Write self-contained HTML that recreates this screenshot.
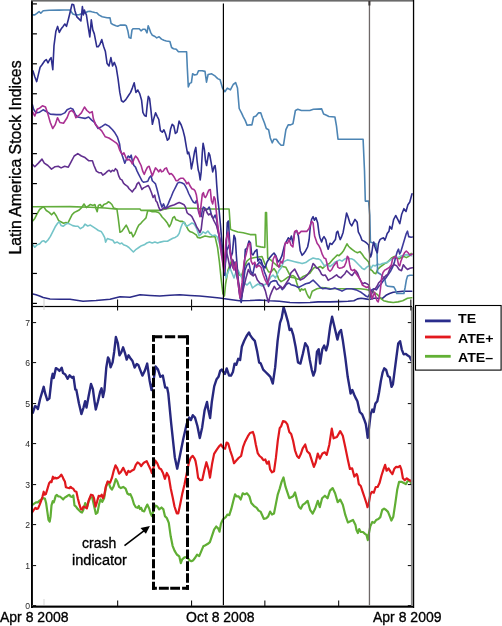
<!DOCTYPE html>
<html><head><meta charset="utf-8"><style>
html,body{margin:0;padding:0;background:#fff;}
body{width:502px;height:626px;position:relative;overflow:hidden;font-family:"Liberation Sans",sans-serif;}
.t{position:absolute;white-space:nowrap;color:#000;line-height:1;filter:grayscale(1);-webkit-text-stroke:0.35px #000;}
.tl{position:absolute;left:0;width:30px;text-align:right;font-size:9.6px;line-height:11px;color:#2a2a2a;transform-origin:30px 0;transform:scaleX(0.9);filter:grayscale(1);}
.lg{position:absolute;left:458.3px;font-weight:bold;font-size:13.5px;line-height:1;white-space:nowrap;transform-origin:0 0;transform:scaleX(1.05);filter:grayscale(1);}
</style></head><body>
<svg width="502" height="626" viewBox="0 0 502 626" style="position:absolute;left:0;top:0"><g><polyline points="32.9,294.0 36.0,294.7 39.6,295.9 43.2,297.5 50.0,299.0 60.0,299.2 70.0,299.3 83.0,301.3 96.0,300.5 110.0,299.2 120.0,296.8 130.0,297.2 140.0,294.8 150.0,295.5 159.8,296.0 170.0,295.2 179.7,294.8 190.0,295.5 199.6,296.0 210.0,297.0 219.5,298.0 230.0,299.5 239.4,300.8 250.0,300.5 259.4,300.0 270.0,300.8 279.3,301.2 290.0,302.5 299.2,302.7 310.0,302.5 318.0,301.9 330.0,301.9 338.4,301.6 348.0,301.3 353.9,300.7 357.5,298.9 361.1,298.3 365.6,298.9 369.2,299.5 374.0,298.3 382.4,298.3 386.0,295.3 389.6,293.5 393.2,292.3 398.0,291.7 402.7,291.3 411.7,291.3" fill="none" stroke="#2b2b88" stroke-width="1.6" stroke-linejoin="round" stroke-linecap="round"/><polyline points="32.5,206.7 70.0,206.6 90.0,207.2 105.0,208.0 115.0,209.0 140.0,209.0 141.0,210.4 160.0,210.4 165.0,209.0 170.0,208.3 195.0,208.3 205.0,209.0 229.1,209.0 230.5,229.3 232.6,230.2 237.9,232.0 243.2,232.8 250.2,234.6 255.6,234.6 256.4,246.0 260.8,246.9 264.8,247.5 265.5,212.6 266.5,212.6 267.7,258.3 271.0,260.1 274.0,263.0 277.5,266.1 281.1,266.1 283.5,266.7 285.9,267.3 287.7,270.9 289.5,274.4 291.3,276.2 293.1,275.6 294.9,276.8 296.7,282.8 297.9,286.4 299.1,288.8 300.2,291.2 301.4,288.8 303.2,290.0 305.0,288.8 306.8,293.6 308.6,297.1 309.8,298.3 311.0,294.8 312.2,291.2 314.6,290.0 317.0,288.8 319.4,288.2 322.0,287.6 330.0,288.5 340.0,288.7 350.0,288.7 360.0,288.7 366.0,289.5 370.0,290.5 374.0,292.3 377.6,294.7 380.6,298.3 383.6,300.7 388.4,301.9 393.2,302.5 398.0,301.9 402.7,300.7 407.5,298.3 411.7,297.7" fill="none" stroke="#62ad3c" stroke-width="1.6" stroke-linejoin="round" stroke-linecap="round"/><polyline points="32.9,220.8 34.8,218.4 37.2,213.6 39.6,209.5 42.0,207.6 43.9,207.1 46.3,210.5 49.2,212.4 51.6,214.8 54.0,212.4 56.4,216.0 58.8,220.8 61.2,222.0 63.6,223.2 66.0,222.5 67.9,223.2 69.6,219.6 72.0,214.8 74.4,212.4 76.8,211.2 79.2,210.0 81.6,207.6 84.0,204.0 86.4,207.6 87.7,206.3 90.4,204.5 93.1,205.4 94.9,204.5 96.1,209.0 97.2,211.7 98.4,205.4 100.2,204.5 102.0,207.2 103.8,204.5 106.5,203.6 108.3,201.8 110.1,202.7 111.9,204.5 113.7,208.1 116.9,209.0 118.2,217.9 120.0,232.3 121.8,231.4 124.4,227.8 126.2,225.1 128.0,228.7 129.8,233.2 131.3,232.3 133.0,236.8 134.8,234.1 137.0,228.7 138.8,225.1 140.9,223.3 142.4,221.5 144.2,219.7 146.0,217.9 147.7,210.8 149.5,210.8 152.2,211.7 155.8,211.7 158.5,212.5 160.3,214.3 162.1,217.0 164.8,219.7 167.5,223.3 169.3,226.9 171.1,223.3 172.8,217.9 174.4,216.6 176.0,219.8 178.4,220.6 180.0,221.4 182.4,221.4 184.8,223.0 186.3,226.2 188.4,230.2 190.3,231.8 192.7,232.6 195.1,234.2 196.4,235.0 197.5,237.4 200.0,238.0 205.0,236.0 210.0,237.0 215.0,236.4 217.6,247.8 219.4,261.9 221.2,279.5 222.9,293.5 224.4,296.0 225.6,284.0 228.0,270.0 232.0,259.5 235.0,266.0 239.5,275.0 241.5,276.0 244.0,268.0 247.0,261.0 250.0,258.5 255.0,257.5 262.0,256.5 264.4,262.5 266.8,268.5 268.6,272.0 271.0,272.0 274.0,268.5 276.3,272.0 278.7,279.2 281.1,281.6 283.5,280.4 285.9,278.6 288.3,276.8 292.0,277.5 295.5,278.0 297.9,279.2 300.2,278.6 302.6,276.8 305.0,275.6 307.4,274.4 309.8,273.2 312.2,269.7 314.6,267.3 317.0,268.0 320.4,266.5 322.8,268.3 325.2,265.9 327.0,264.7 329.4,263.5 332.4,259.9 334.8,257.5 337.2,255.1 339.0,255.7 341.4,253.4 343.7,250.4 345.5,246.8 347.0,243.8 348.5,246.2 350.3,248.0 352.7,249.8 355.1,251.6 357.5,252.8 359.9,251.6 362.0,254.0 364.4,257.6 366.8,260.0 368.6,262.0 370.4,269.5 372.2,270.7 374.0,273.1 375.8,273.7 377.6,269.5 380.0,267.1 382.4,265.3 384.8,263.5 387.2,262.4 389.6,260.0 392.0,257.6 394.4,256.4 396.7,257.6 399.1,258.8 401.5,257.0 403.9,256.4 406.3,257.6 408.7,256.4 411.1,253.4" fill="none" stroke="#60ab3a" stroke-width="1.6" stroke-linejoin="round" stroke-linecap="round"/><polyline points="32.9,244.8 34.8,247.2 37.2,244.8 39.6,244.1 42.0,241.2 43.9,240.7 45.6,242.4 48.0,240.0 50.4,236.4 52.8,231.6 55.2,226.8 57.6,223.2 59.3,222.0 61.2,225.6 63.1,226.3 65.5,224.4 67.9,223.2 70.3,224.4 72.7,225.6 75.6,226.3 78.0,226.3 80.4,228.7 83.3,226.8 85.0,224.2 87.7,226.0 90.4,225.1 93.1,226.9 95.8,228.7 98.4,230.5 101.1,231.4 102.9,234.1 104.7,237.6 105.6,242.1 107.4,238.5 110.1,239.4 112.8,240.3 114.6,243.0 117.3,242.1 120.0,243.9 121.8,243.0 123.5,244.8 126.2,245.7 128.9,247.5 131.6,250.2 133.4,252.0 136.1,249.3 138.8,247.5 141.5,245.7 144.2,244.8 146.8,243.0 149.5,242.1 152.2,243.0 154.9,242.1 157.6,243.0 160.3,242.1 163.9,241.2 167.5,241.2 169.6,240.0 172.8,238.2 175.2,237.4 177.6,235.8 179.2,233.4 180.8,227.8 182.4,223.8 184.0,222.2 185.5,225.4 187.1,226.2 189.5,224.6 191.9,223.0 193.9,223.8 195.4,226.2 197.0,229.4 199.1,235.8 201.2,234.2 203.1,231.8 205.5,233.4 207.9,231.0 210.3,234.2 212.7,235.8 215.1,235.0 217.5,237.4 220.0,245.0 222.0,258.0 224.4,268.0 226.0,278.0 228.0,272.0 230.0,268.0 232.4,274.0 234.0,278.0 236.0,272.0 238.0,270.0 241.0,276.0 244.0,283.0 247.0,285.0 250.0,282.0 252.5,288.0 255.0,286.0 258.0,284.0 262.0,286.0 266.0,284.0 268.0,282.0 270.7,277.0 273.0,275.0 275.5,278.0 278.7,271.0 281.0,268.0 283.7,261.7 287.4,259.9 291.0,260.8 294.7,261.7 298.4,262.6 302.1,263.6 305.7,262.6 309.4,259.9 313.1,258.0 316.8,259.0 318.0,258.7 320.4,259.9 322.8,263.5 324.6,265.9 327.0,264.7 330.0,266.5 332.4,264.7 334.8,262.3 337.2,261.1 339.6,259.9 342.0,261.1 344.3,259.3 346.7,258.1 349.1,258.7 351.5,258.7 353.9,259.9 356.3,262.3 358.7,264.7 361.1,267.1 362.0,268.3 364.4,269.5 366.8,267.1 368.6,265.9 371.0,268.3 372.8,265.3 375.2,265.9 377.6,264.1 380.0,264.7 382.4,263.5 384.8,263.0 387.2,262.4 389.6,260.6 392.0,258.8 394.4,258.2 396.7,257.6 399.1,257.0 401.5,255.8 403.9,255.2 406.3,254.6 408.7,255.2 411.7,255.8" fill="none" stroke="#74c4c8" stroke-width="1.6" stroke-linejoin="round" stroke-linecap="round"/><polyline points="32.9,14.9 34.8,14.9 37.2,13.2 39.1,11.5 40.8,13.2 43.2,10.8 49.2,10.3 58.8,10.1 64.0,10.0 70.0,10.0 72.9,13.9 75.9,14.9 78.9,14.7 80.9,13.9 85.9,12.5 87.8,11.5 89.8,11.2 91.8,11.8 94.8,12.5 96.8,12.7 98.8,14.9 102.2,16.7 107.0,17.7 110.0,17.9 111.1,23.3 112.9,24.5 115.9,25.7 117.7,26.3 120.1,25.1 124.9,25.1 126.3,25.7 127.9,31.1 129.1,37.6 130.9,38.2 132.0,29.9 133.0,28.7 139.2,28.7 141.0,30.8 142.8,29.3 145.2,29.3 147.0,32.9 148.2,25.7 149.4,28.7 150.6,32.3 152.4,35.3 155.0,36.5 156.7,37.9 159.1,36.7 161.5,39.1 163.9,40.3 166.3,41.0 169.9,41.5 171.6,47.5 173.5,48.7 176.3,49.2 178.2,51.6 181.8,51.8 186.6,51.8 187.3,67.8 188.3,86.9 189.7,83.4 191.4,82.6 192.6,73.8 194.5,75.0 196.9,74.5 198.6,70.7 202.2,70.7 205.0,71.4 206.5,82.2 208.1,74.5 211.7,73.8 215.3,76.2 217.7,78.6 220.1,79.8 222.5,88.1 224.9,91.7 227.3,88.1 230.4,89.8 233.2,84.5 235.6,82.6 237.5,88.1 239.2,108.5 241.6,113.2 243.3,116.8 245.2,120.4 247.1,125.2 250.0,124.9 251.9,124.9 253.6,117.0 256.0,116.0 258.4,112.9 260.8,112.9 262.4,117.7 264.3,122.5 266.3,128.5 268.6,129.7 270.3,138.0 272.2,142.8 273.9,139.2 276.3,139.2 278.7,142.8 281.1,145.2 283.5,145.2 285.9,129.7 288.2,124.9 290.6,124.9 293.0,123.7 295.4,110.5 297.8,109.3 301.4,110.5 309.8,110.5 313.4,109.3 321.7,108.9 323.6,114.1 326.5,115.3 328.9,116.5 334.9,117.0 336.5,126.1 338.0,139.2 340.4,139.2 345.6,139.2 363.1,139.2 364.5,170.7 365.3,201.1 368.6,201.1 369.8,215.0 370.4,242.0 374.0,243.2 375.8,243.8 377.0,251.6 377.6,272.5 380.6,274.3 383.0,276.7 384.8,279.1 386.0,285.1 387.8,286.3 393.8,286.9 395.5,289.9 396.7,293.5 403.9,293.5 405.1,287.5 406.3,280.3 407.5,276.1 409.9,275.3 412.3,275.3" fill="none" stroke="#4d85b4" stroke-width="1.6" stroke-linejoin="round" stroke-linecap="round"/><polyline points="32.9,70.8 34.8,76.8 36.7,81.6 38.4,74.4 40.1,67.2 42.0,64.8 44.4,61.2 46.3,59.5 48.0,62.9 49.7,59.5 51.1,57.6 52.8,69.6 54.0,45.6 55.9,31.2 57.6,26.4 59.3,32.4 61.2,28.8 63.1,26.4 64.8,24.0 66.5,26.4 68.4,19.2 70.3,11.5 72.0,4.3 73.7,4.8 75.0,11.0 76.9,16.9 79.9,19.9 80.9,20.9 82.4,6.5 83.4,14.9 84.4,10.0 85.4,12.9 86.4,14.9 87.9,24.9 89.8,36.9 91.3,19.9 92.8,29.9 94.3,33.9 96.8,46.8 98.2,46.8 99.9,44.4 101.8,39.6 103.7,46.8 105.4,51.6 107.1,63.6 109.0,66.0 110.9,57.6 112.6,66.0 114.3,62.4 116.2,67.2 118.1,79.2 119.8,92.4 121.5,100.8 123.4,102.0 125.8,99.6 128.2,96.0 130.6,92.4 132.5,87.6 134.2,82.8 135.9,92.4 137.8,90.0 139.7,93.6 141.6,100.3 142.9,112.3 144.5,115.5 146.1,116.3 147.2,105.1 148.3,96.3 149.6,98.7 150.9,109.9 152.4,124.3 154.0,117.9 155.6,112.8 157.2,116.3 158.8,119.5 160.4,130.6 162.3,132.2 163.9,129.8 165.5,133.8 167.4,140.2 169.0,138.6 170.6,129.0 172.2,124.3 173.8,125.8 175.4,133.5 177.0,132.2 179.1,121.1 181.2,125.0 183.1,130.6 184.7,137.0 186.3,146.6 187.6,153.8 188.7,152.2 190.3,159.4 191.4,168.9 193.0,161.0 194.6,151.4 195.8,147.4 197.1,161.0 198.3,170.3 199.1,172.7 200.2,179.9 201.2,171.9 202.3,152.8 203.1,143.2 204.4,149.6 205.5,160.8 206.6,165.5 207.9,157.6 208.7,152.8 209.8,155.2 211.1,162.4 212.7,171.9 214.3,166.3 215.1,165.5 215.9,171.9 216.7,184.7 217.8,199.1 219.1,210.3 220.4,224.2 222.0,243.4 223.6,265.7 224.7,275.3 226.0,253.0 227.3,222.6 228.4,221.0 229.5,238.6 230.8,257.7 232.4,253.0 234.0,235.4 235.3,238.6 236.4,256.1 238.0,276.9 239.6,294.5 241.2,302.5 242.8,289.7 244.4,265.0 245.3,249.5 246.9,248.4 249.0,241.0 250.5,243.0 251.6,253.7 253.0,255.0 254.8,251.6 256.9,249.5 257.9,261.1 259.5,259.0 261.0,260.0 262.7,265.3 265.0,268.0 267.0,262.0 269.5,258.0 272.0,255.0 274.0,253.0 276.0,256.0 278.0,262.0 280.0,259.9 281.8,256.2 284.6,245.2 286.4,241.5 288.3,237.8 290.1,239.7 291.4,236.0 292.9,243.3 294.7,232.3 296.6,230.5 298.4,236.0 300.2,250.7 302.1,255.3 303.9,253.4 305.7,250.7 307.6,247.0 309.1,239.7 310.3,226.8 311.6,219.4 313.1,216.7 314.4,220.3 315.9,217.6 317.7,223.1 319.0,233.2 319.8,237.2 321.6,242.0 322.8,238.4 324.0,236.6 325.8,239.6 327.0,245.6 328.2,249.2 330.0,243.2 331.8,244.4 333.6,242.0 335.4,239.6 336.6,232.4 337.8,231.2 339.0,236.0 340.2,239.6 341.4,237.2 343.1,232.4 345.3,220.3 346.6,213.0 348.0,216.7 349.9,223.1 351.7,225.9 353.6,222.2 355.0,219.4 357.2,222.3 358.3,231.8 360.4,236.0 362.0,240.2 364.4,241.4 366.8,243.2 368.6,245.0 369.8,254.0 370.6,257.0 371.6,254.0 372.8,245.6 373.7,242.0 374.9,246.8 376.1,250.4 377.3,252.8 378.5,243.2 380.0,239.6 381.8,238.4 383.6,237.8 384.8,240.2 386.0,237.2 387.2,233.6 389.0,231.2 389.8,226.4 391.7,229.1 393.6,219.6 395.7,215.5 397.9,219.6 399.8,223.7 401.7,214.2 403.9,208.7 406.0,211.5 407.9,204.7 409.8,202.0 412.0,193.8" fill="none" stroke="#2e2e8e" stroke-width="1.6" stroke-linejoin="round" stroke-linecap="round"/><polyline points="32.4,104.6 33.6,109.3 36.0,112.9 39.6,112.2 43.1,109.8 46.7,111.7 50.3,114.1 56.3,114.6 61.1,114.6 64.7,112.9 67.1,109.8 70.6,108.1 73.0,109.3 75.4,114.6 77.8,117.0 81.4,117.7 85.0,118.4 88.6,117.0 91.7,120.1 94.5,122.5 98.1,128.5 101.7,126.6 105.3,124.2 108.9,126.1 112.5,129.7 114.9,132.8 117.3,136.8 119.6,144.0 120.3,149.6 121.9,154.4 123.5,159.2 124.8,163.2 126.4,159.2 128.3,156.0 129.9,157.6 131.2,155.2 132.3,160.8 133.9,165.5 135.5,167.1 137.1,171.1 138.7,174.3 140.3,177.5 141.9,180.7 143.5,182.3 145.9,181.8 147.8,181.2 149.4,177.5 151.0,175.9 152.3,180.7 153.9,182.3 155.5,183.9 157.1,189.5 158.7,195.9 160.3,202.3 161.9,207.1 163.5,203.9 165.0,207.9 166.6,207.1 168.2,203.9 169.8,199.9 171.2,196.7 172.8,192.7 174.4,189.5 176.0,186.3 177.6,183.1 179.2,182.3 181.6,182.8 184.0,183.9 185.5,186.3 187.1,189.5 188.7,193.5 190.3,196.7 191.9,199.9 193.5,202.3 195.1,203.1 196.4,200.7 197.5,203.9 198.6,211.9 199.9,215.0 201.2,216.6 202.3,210.3 203.4,207.1 204.7,207.9 206.3,210.3 207.9,208.7 209.2,207.1 210.3,210.3 211.9,216.6 213.5,218.2 215.1,215.0 216.7,219.8 217.8,229.4 219.1,235.8 221.0,245.0 223.0,255.0 225.0,265.0 227.0,250.0 229.0,245.0 231.0,258.0 233.0,268.0 235.0,262.0 237.0,275.0 239.0,290.0 241.0,300.0 243.0,285.0 245.0,270.0 247.0,265.0 249.0,263.2 250.5,270.6 252.7,274.8 254.8,264.3 256.5,266.0 259.5,262.0 262.7,266.0 264.5,272.0 266.4,276.9 268.5,286.4 270.6,282.2 272.7,281.1 274.8,280.6 276.5,281.0 278.0,284.3 280.1,286.4 282.2,289.6 284.0,288.0 286.4,284.3 289.0,283.0 291.0,284.7 294.7,285.6 298.4,287.5 302.1,285.6 305.7,283.8 309.4,282.9 313.1,280.1 316.8,283.8 320.4,287.5 322.8,288.7 325.2,288.1 327.6,288.7 330.0,289.3 332.4,288.7 334.8,288.1 339.6,289.9 342.0,291.1 344.3,289.9 346.7,288.7 351.5,288.7 356.3,289.9 358.7,291.1 361.1,292.3 363.5,294.1 365.9,296.0 368.0,297.0 371.6,289.9 374.0,288.7 376.4,289.9 378.8,286.3 381.2,283.9 383.6,280.3 386.0,277.9 388.4,274.3 390.8,270.7 392.6,267.1 394.4,262.4 395.5,257.6 397.3,251.6 398.5,249.2 399.7,254.0 400.9,251.6 402.7,245.6 404.5,239.6 406.3,233.6 407.5,231.2 408.7,236.6 411.1,237.2 412.3,237.0" fill="none" stroke="#3d3a9c" stroke-width="1.6" stroke-linejoin="round" stroke-linecap="round"/><polyline points="32.4,164.3 34.8,166.7 38.4,163.1 42.0,159.1 44.3,163.1 47.9,165.5 51.5,169.1 55.1,166.7 58.2,166.2 61.1,167.9 64.7,166.2 68.3,167.2 71.1,161.9 74.2,156.0 77.8,153.6 81.4,156.0 85.0,157.6 88.6,160.7 92.4,160.8 94.0,165.5 96.4,171.1 98.8,172.7 101.2,172.7 102.8,175.1 105.2,173.5 107.6,171.1 109.2,170.3 110.8,171.9 112.4,170.3 114.0,171.1 115.5,168.7 117.1,170.3 118.7,175.9 120.3,179.1 121.9,179.9 123.5,183.1 125.1,184.7 127.5,186.3 129.1,188.7 130.7,190.3 132.3,191.9 133.9,189.5 135.5,187.9 137.1,183.9 138.7,182.3 140.3,185.5 141.9,189.5 143.5,187.9 145.1,187.1 146.7,186.3 148.3,185.5 149.9,188.7 151.5,192.7 153.1,197.5 154.7,195.1 155.8,200.7 157.1,202.3 158.7,207.1 160.3,210.3 161.9,209.5 163.5,207.9 165.8,208.7 167.2,207.9 169.6,206.3 172.0,205.5 174.4,204.7 176.8,203.6 179.2,202.6 181.6,203.6 184.0,204.7 185.5,207.1 187.1,212.7 188.7,214.3 190.3,215.0 191.9,216.6 193.5,219.8 195.1,223.0 196.7,227.0 198.3,229.4 199.9,232.6 201.2,229.4 202.3,219.8 203.9,211.1 205.5,208.7 207.1,212.7 208.7,215.0 210.3,213.5 211.9,215.8 213.5,219.8 215.1,223.0 216.7,226.2 218.3,232.6 219.9,239.0 222.0,250.0 224.0,262.0 226.0,250.0 228.0,258.0 230.0,268.0 233.0,260.0 236.0,272.0 239.0,285.0 241.0,298.0 243.0,290.0 246.0,278.0 248.4,269.5 250.5,273.8 253.2,275.9 255.0,274.0 257.4,280.1 260.0,283.2 262.7,284.3 265.3,290.6 266.9,297.0 268.5,302.2 270.1,295.9 272.2,290.6 274.3,286.4 276.4,289.6 278.5,288.5 280.6,286.4 282.7,288.5 284.8,285.4 286.9,282.2 289.0,279.0 291.0,272.8 294.7,269.1 297.5,274.6 300.2,280.1 303.9,278.3 307.6,274.6 311.3,269.1 313.1,263.6 314.9,265.4 316.8,268.0 318.0,268.3 319.8,270.7 321.6,274.3 323.4,275.5 325.2,275.0 327.0,277.9 328.2,280.3 330.0,279.1 332.4,277.9 334.8,276.1 336.6,274.9 338.4,276.7 340.8,277.9 343.1,275.5 344.9,273.7 346.7,270.7 348.5,272.5 350.3,274.3 352.1,275.5 353.9,273.1 355.7,270.7 357.5,273.1 359.3,277.9 361.1,281.5 362.9,283.9 364.7,282.7 367.1,283.9 368.9,285.1 369.2,289.9 370.4,297.1 371.6,294.0 373.4,289.9 375.2,288.7 377.0,286.3 378.8,282.7 381.2,280.3 383.6,277.9 386.0,275.5 387.8,274.3 389.6,269.5 392.0,265.9 394.4,264.7 396.7,265.9 399.1,269.5 401.5,270.7 403.3,264.7 405.1,267.1 407.5,269.5 409.9,268.3 412.3,267.7" fill="none" stroke="#62308f" stroke-width="1.6" stroke-linejoin="round" stroke-linecap="round"/><polyline points="32.4,111.7 34.8,116.0 37.2,109.3 39.6,108.1 42.4,105.8 45.5,107.0 47.9,114.1 50.3,122.5 52.7,128.5 55.1,124.9 57.5,117.7 59.9,122.5 63.5,123.2 67.1,117.7 69.4,111.7 71.8,110.5 74.2,112.9 75.9,117.7 79.0,115.3 81.4,112.9 84.5,107.0 86.9,110.5 89.8,112.9 92.2,111.7 93.4,118.9 95.7,124.9 98.1,127.3 101.7,130.9 105.3,136.8 108.9,138.0 112.5,140.4 116.1,142.8 117.9,144.8 119.5,149.6 121.1,152.8 122.7,154.4 123.9,152.8 125.9,157.6 127.5,160.0 129.1,159.2 131.2,161.6 132.3,164.0 133.9,159.2 135.5,156.0 137.6,158.4 139.5,162.4 141.1,165.5 142.7,171.1 144.3,174.3 145.9,170.3 147.5,167.1 149.1,166.3 150.7,171.1 152.3,175.9 153.9,171.9 155.5,167.9 157.1,169.5 158.7,171.9 160.3,169.5 161.6,171.9 163.2,171.1 164.8,168.7 166.4,167.9 168.0,171.9 169.6,174.3 171.2,173.5 172.8,175.1 174.4,177.5 176.0,180.7 177.6,180.7 179.2,179.1 180.8,178.3 183.2,178.3 185.2,180.7 186.8,183.9 188.4,182.3 190.3,186.3 191.9,188.7 193.9,189.5 195.1,191.1 196.4,195.1 197.5,202.3 198.6,210.3 199.9,216.6 201.2,203.9 202.3,194.3 203.4,192.7 204.4,196.7 205.5,197.5 207.1,194.3 208.7,190.3 210.3,189.5 211.4,200.7 212.7,203.9 214.0,196.7 215.1,199.1 216.2,210.3 217.5,223.0 218.8,232.6 220.0,245.0 222.0,258.0 224.0,272.0 226.0,240.0 228.0,232.0 230.0,250.0 232.0,262.0 234.0,270.0 236.0,262.0 238.0,282.0 240.0,298.0 242.1,282.2 244.2,261.1 246.3,253.7 248.4,244.2 250.0,243.2 251.1,261.1 252.7,264.3 254.8,262.2 256.4,267.4 259.0,265.3 261.1,267.4 263.2,274.8 265.3,280.1 267.4,284.3 269.5,275.9 271.6,269.5 273.2,259.0 274.8,255.8 276.0,257.0 277.4,264.3 279.0,267.4 280.6,261.1 282.2,263.2 283.8,257.9 284.8,245.3 285.5,242.4 287.4,243.3 289.2,239.7 291.0,245.2 292.9,247.0 294.7,231.4 296.6,230.5 298.4,234.1 301.1,231.4 303.9,231.4 306.7,231.4 309.1,228.6 310.3,224.9 311.6,221.3 313.1,223.1 314.6,236.0 315.9,239.7 317.1,243.3 318.6,245.2 320.5,248.9 322.3,254.4 324.1,258.0 325.8,258.7 327.0,263.5 328.2,269.5 330.0,271.3 331.8,269.5 333.6,265.9 335.4,263.5 336.9,261.7 337.8,267.1 339.6,268.3 342.0,267.7 344.3,266.5 346.1,262.3 347.3,256.3 348.5,257.5 349.7,264.7 350.9,269.5 352.7,270.7 354.5,269.5 355.7,273.1 357.5,275.5 359.3,277.9 361.1,281.5 362.3,285.1 364.4,286.3 366.8,287.5 369.2,286.3 371.0,293.5 372.2,298.9 373.4,295.3 374.6,292.3 375.8,297.1 377.0,300.7 378.2,301.9 379.4,297.1 380.6,287.5 381.8,276.7 383.0,272.5 384.8,270.1 386.0,269.5 387.8,268.3 389.6,267.1 391.4,264.7 392.6,258.8 393.8,257.6 395.5,256.4 397.3,258.8 398.5,264.7 399.7,265.9 400.9,261.2 402.7,256.4 404.5,252.8 406.3,251.0 408.1,252.8 409.9,255.2 412.3,254.0" fill="none" stroke="#aa3092" stroke-width="1.6" stroke-linejoin="round" stroke-linecap="round"/></g><polyline points="32.4,504.8 34.2,503.6 36.0,502.4 37.8,502.4 39.6,500.6 41.4,499.4 43.1,498.2 44.9,498.5 46.1,503.0 47.3,511.4 48.5,519.8 49.7,521.6 50.6,516.2 51.5,505.4 52.7,501.2 53.7,502.4 54.7,499.4 55.7,495.9 56.9,494.9 58.4,496.5 59.9,496.5 61.7,498.0 63.2,499.4 64.7,497.6 66.5,496.5 68.2,495.3 69.4,494.9 70.6,496.5 72.1,497.0 73.3,495.3 74.5,505.4 76.0,506.6 77.2,508.4 79.0,510.2 80.8,512.0 82.0,512.6 83.2,510.2 84.4,506.0 85.2,503.0 86.2,505.4 87.0,507.2 88.6,501.8 90.4,497.0 92.2,497.6 94.0,505.4 95.8,513.8 97.5,512.6 99.1,504.2 100.5,499.4 102.3,501.8 104.1,498.2 105.9,487.5 107.7,482.1 108.9,483.3 110.3,487.5 111.9,489.6 113.7,486.3 115.8,479.1 117.3,481.5 119.1,486.9 120.9,488.1 123.2,486.9 125.6,488.7 127.4,493.5 129.0,494.7 130.4,494.1 132.2,498.2 134.0,504.2 135.8,507.2 137.6,507.8 138.8,506.0 140.0,509.0 141.2,507.8 142.4,510.8 144.2,511.4 145.8,507.5 147.3,504.6 149.2,508.5 150.5,513.3 151.9,516.1 153.8,509.4 155.3,505.6 157.3,506.5 159.2,509.4 161.5,507.5 163.4,509.4 164.9,516.1 166.8,518.0 168.8,522.8 170.7,536.3 172.6,545.8 174.5,550.6 176.8,554.5 179.3,556.4 180.8,563.1 182.2,559.3 184.5,557.3 187.0,557.0 189.5,560.2 191.4,561.2 193.3,560.2 195.3,557.5 197.1,554.6 199.2,556.2 201.2,551.4 203.3,546.3 205.4,545.2 207.9,543.8 209.9,542.1 212.0,535.9 214.1,529.6 216.2,526.5 218.3,528.6 219.5,531.7 221.0,523.4 223.0,519.3 225.7,517.2 227.2,514.7 229.3,515.1 231.3,508.9 233.4,500.6 235.1,494.4 236.5,496.4 238.6,496.4 240.7,499.5 242.7,493.3 244.8,494.4 246.9,493.3 249.4,496.4 251.3,503.0 253.8,505.8 256.7,507.8 258.6,510.6 260.5,511.6 261.9,514.5 263.8,518.9 266.3,518.3 268.2,516.4 270.1,511.6 272.0,514.5 274.0,513.5 275.9,503.9 277.8,494.3 279.7,488.6 281.6,481.9 283.5,477.5 285.5,486.7 287.4,492.4 289.3,498.2 291.2,497.2 293.1,496.3 295.0,492.4 297.0,500.1 298.9,506.8 300.8,508.7 302.7,504.9 305.0,503.4 307.6,500.8 310.1,509.8 312.7,513.6 315.2,508.5 317.8,500.8 319.8,507.2 322.1,498.3 324.9,495.7 327.5,498.3 330.0,490.6 332.6,488.1 335.1,493.2 337.7,502.1 340.2,499.6 342.8,504.7 345.3,514.9 347.9,522.5 350.4,521.3 353.0,520.0 355.5,525.1 356.5,530.1 357.9,533.0 359.2,529.1 360.8,532.0 363.0,532.0 365.0,533.9 366.5,534.9 367.8,540.1 368.8,533.9 370.3,526.3 372.3,522.0 374.2,522.8 376.1,520.1 378.4,519.0 380.3,517.1 382.2,510.0 384.1,508.6 386.1,510.0 388.0,511.9 389.9,516.7 391.4,520.5 393.3,516.7 395.3,503.3 397.2,489.8 399.1,481.8 401.4,481.8 403.9,483.1 405.8,484.1 407.7,481.2 409.6,480.6 411.5,484.1" fill="none" stroke="#60ae34" stroke-width="2.2" stroke-linejoin="round" stroke-linecap="round"/><polyline points="32.4,512.0 33.6,510.2 35.4,507.8 36.6,509.0 38.1,508.4 39.6,504.8 41.4,500.0 42.5,496.5 43.7,491.7 44.6,494.7 45.8,494.1 47.3,489.3 49.1,483.3 50.6,481.5 51.5,482.1 52.9,476.7 53.9,478.5 55.1,477.7 56.3,478.5 58.1,477.9 59.9,476.5 61.3,474.6 62.5,476.7 63.5,479.1 64.9,481.5 65.9,487.2 67.6,487.7 69.4,488.1 70.6,486.9 71.8,488.1 73.3,488.7 74.8,491.3 76.4,491.7 77.8,498.2 79.2,503.6 80.8,509.0 82.0,509.6 83.5,506.6 85.0,507.2 86.8,508.4 88.6,500.6 91.0,494.7 92.8,495.3 94.0,498.2 95.5,506.6 97.0,501.8 98.7,495.9 100.5,496.5 101.7,494.7 102.9,498.2 104.1,495.9 105.9,486.3 107.7,481.5 110.1,482.7 111.9,477.9 113.7,470.8 115.5,465.4 117.3,468.4 119.1,473.7 120.9,472.0 123.2,467.8 125.0,471.4 126.6,474.9 128.3,470.8 129.8,472.0 131.6,470.8 134.0,469.6 135.8,464.8 137.6,462.4 139.4,463.6 141.2,466.0 143.0,463.6 144.2,462.5 146.7,461.1 148.6,465.3 150.5,469.2 151.9,473.0 153.4,468.2 155.3,460.5 157.3,463.4 159.2,468.2 161.1,469.2 163.0,473.0 164.9,478.8 166.8,473.0 168.8,476.8 170.7,488.3 172.6,497.0 174.5,506.5 176.8,513.3 178.3,513.3 180.3,503.7 182.2,494.1 184.5,484.5 186.4,474.9 188.9,462.5 190.8,457.7 192.7,455.8 194.6,458.6 195.5,461.0 196.7,467.4 198.1,477.7 200.2,480.2 202.3,479.8 204.3,470.5 206.4,462.2 208.5,469.4 210.0,477.7 212.0,464.3 214.1,453.9 216.8,449.7 218.9,446.6 221.0,444.5 223.0,447.6 225.1,448.7 226.6,442.5 228.2,443.5 230.3,450.8 232.4,457.0 234.0,463.2 236.1,460.7 238.6,458.0 241.1,456.0 243.2,446.6 245.2,441.4 247.9,436.2 250.0,433.0 252.9,432.0 254.2,435.9 255.8,444.5 257.7,453.1 259.6,456.0 261.5,457.5 263.4,460.2 265.3,459.5 266.9,463.7 268.8,461.4 270.1,469.4 272.0,472.3 274.0,471.3 275.9,457.9 277.8,440.7 279.7,428.2 281.1,426.3 283.0,421.1 285.5,421.9 287.4,424.4 289.3,432.0 291.2,434.0 293.1,440.7 295.0,450.3 297.0,456.0 298.9,457.9 300.8,454.1 302.7,448.3 305.2,444.5 307.1,451.2 309.6,453.6 312.1,461.3 313.9,466.9 315.7,462.5 317.8,453.6 319.8,458.7 322.4,453.6 324.9,452.3 326.7,454.9 329.3,444.7 331.8,428.6 333.6,438.3 336.9,437.0 340.2,431.1 342.8,435.7 345.3,447.2 347.9,460.0 349.9,468.9 352.2,468.4 354.3,476.6 356.6,474.0 357.5,476.0 358.8,484.1 360.8,486.0 362.7,491.8 364.6,497.5 366.5,503.3 367.5,507.1 368.8,503.3 370.3,494.6 371.9,491.8 373.8,492.7 375.7,487.0 377.6,487.0 379.5,483.1 381.5,475.5 383.4,469.7 385.1,464.9 386.6,470.7 388.5,468.4 390.5,471.6 392.4,474.1 394.3,468.8 396.2,466.8 398.1,467.2 400.0,465.9 401.4,469.7 402.9,478.3 404.8,480.3 406.8,478.3 409.6,480.3 411.5,481.2" fill="none" stroke="#e0181d" stroke-width="2.2" stroke-linejoin="round" stroke-linecap="round"/><polyline points="32.9,412.7 35.0,406.2 36.5,406.9 37.9,409.0 40.1,399.0 43.7,386.8 45.1,393.2 47.3,400.1 49.4,398.3 51.6,378.8 52.7,373.8 53.7,378.1 55.9,368.1 58.1,369.5 59.5,370.9 61.7,367.8 63.1,373.1 65.3,374.5 67.7,378.8 69.6,375.3 72.0,377.7 73.5,376.7 75.3,389.6 76.3,389.6 78.9,403.3 81.4,414.1 83.5,407.6 85.1,401.2 86.5,407.6 88.6,396.3 91.0,384.0 92.9,389.1 94.4,400.6 95.8,409.5 98.0,401.3 100.1,392.0 101.5,388.3 103.0,397.0 104.4,390.5 106.3,367.5 108.0,357.4 109.2,359.6 110.6,367.2 112.6,362.4 114.2,351.7 115.9,337.0 117.8,343.0 119.5,355.3 121.3,352.4 123.1,347.3 125.0,353.1 126.7,359.6 128.6,355.3 130.8,358.8 132.5,361.0 134.6,367.5 136.8,363.9 138.5,365.3 140.4,370.4 142.4,375.6 144.8,370.8 147.2,363.6 149.6,380.4 151.5,390.0 153.2,382.8 155.6,366.5 158.0,369.6 160.4,376.8 162.8,375.6 165.2,387.6 167.1,387.6 168.3,393.6 171.2,423.6 174.8,457.2 177.2,468.7 179.6,457.2 183.2,439.2 186.8,423.6 189.2,417.6 190.9,420.0 192.8,415.2 195.0,417.6 197.4,426.0 199.8,438.0 202.2,427.2 204.6,410.4 207.0,402.0 208.2,409.2 210.1,418.1 211.8,402.0 214.2,386.4 216.6,379.2 218.5,376.8 220.2,370.8 221.9,369.6 223.3,372.0 225.0,373.9 226.7,368.4 229.1,375.6 231.0,375.6 232.9,372.0 234.6,363.6 236.3,364.8 238.2,358.8 240.1,360.0 241.8,346.8 244.2,340.8 246.6,336.0 249.0,332.4 250.0,334.8 252.4,338.4 254.8,340.8 257.2,351.6 259.1,362.4 260.8,363.6 263.2,369.6 265.6,372.0 268.0,374.4 270.4,376.8 272.8,383.5 275.2,367.2 277.6,340.8 280.0,322.8 281.7,318.0 283.6,307.2 285.5,313.2 287.9,321.6 289.6,330.0 291.3,328.8 293.2,334.8 295.6,346.8 298.0,362.4 300.4,363.6 302.8,354.0 305.2,343.2 307.6,346.8 309.8,360.0 311.7,369.6 313.4,375.6 315.1,370.8 317.0,351.6 318.7,349.2 320.1,363.6 322.3,349.2 324.2,345.6 326.1,350.4 327.8,344.4 330.2,326.4 332.1,316.8 333.8,324.0 335.5,331.2 337.4,339.6 339.1,332.4 341.0,330.0 342.9,340.8 345.3,357.6 347.7,376.8 349.4,386.4 350.6,393.6 352.3,390.0 354.2,394.8 355.9,398.4 357.4,401.2 359.8,412.0 362.2,414.4 364.1,419.2 365.8,424.0 367.0,432.4 367.7,437.9 368.9,428.8 370.6,414.4 372.3,409.6 373.7,412.0 375.4,403.6 377.3,401.2 379.0,392.8 380.9,380.8 382.6,372.4 384.3,368.3 386.2,370.0 387.9,376.0 389.8,377.2 391.5,386.8 392.9,384.4 394.6,371.2 396.3,358.0 398.2,343.6 400.1,341.2 401.8,349.6 403.7,354.4 405.9,353.9 407.8,355.6 409.7,356.8 411.4,360.4" fill="none" stroke="#27287f" stroke-width="2.4" stroke-linejoin="round" stroke-linecap="round"/><rect x="31" y="0" width="383" height="1.6" fill="#6a6a6a"/><rect x="222.8" y="3.5" width="1.2" height="603" fill="#000"/><rect x="368.8" y="0" width="1.3" height="607" fill="#6e6868"/><rect x="368.4" y="1" width="2" height="4.5" fill="#3a3636"/><rect x="31" y="1.2" width="1.9" height="606.8" fill="#000"/><rect x="31" y="305.9" width="381" height="1.2" fill="#000"/><rect x="412.9" y="0" width="1.3" height="608" fill="#000"/><rect x="410.9" y="307" width="2" height="299" fill="#8a8a8a"/><rect x="32" y="605.1" width="380" height="1" fill="#8a8a8a"/><rect x="31" y="606" width="383" height="1.7" fill="#000"/><rect x="32.5" y="3.30" width="4.4" height="1.2" fill="#000"/><rect x="32.5" y="33.25" width="4.4" height="1.2" fill="#000"/><rect x="32.5" y="63.20" width="4.4" height="1.2" fill="#000"/><rect x="32.5" y="93.15" width="4.4" height="1.2" fill="#000"/><rect x="32.5" y="123.10" width="4.4" height="1.2" fill="#000"/><rect x="32.5" y="153.05" width="4.4" height="1.2" fill="#000"/><rect x="32.5" y="183.00" width="4.4" height="1.2" fill="#000"/><rect x="32.5" y="212.95" width="4.4" height="1.2" fill="#000"/><rect x="32.5" y="242.90" width="4.4" height="1.2" fill="#000"/><rect x="32.5" y="272.85" width="4.4" height="1.2" fill="#000"/><rect x="32.5" y="302.80" width="4.4" height="1.2" fill="#000"/><rect x="117.0" y="299.5" width="1.1" height="11" fill="#111"/><rect x="191.0" y="299.5" width="1.1" height="11" fill="#111"/><rect x="264.0" y="299.5" width="1.1" height="11" fill="#111"/><rect x="338.0" y="299.5" width="1.1" height="11" fill="#111"/><rect x="410.3" y="299.5" width="1.1" height="11" fill="#111"/><rect x="43.5" y="299" width="1" height="11" fill="#d0d0d0"/><rect x="32.5" y="605" width="3.6" height="1.1" fill="#1a1a1a"/><rect x="407.8" y="605" width="3.4" height="1.1" fill="#1a1a1a"/><rect x="32.5" y="565" width="3.6" height="1.1" fill="#1a1a1a"/><rect x="407.8" y="565" width="3.4" height="1.1" fill="#1a1a1a"/><rect x="32.5" y="524" width="3.6" height="1.1" fill="#1a1a1a"/><rect x="407.8" y="524" width="3.4" height="1.1" fill="#1a1a1a"/><rect x="32.5" y="484" width="3.6" height="1.1" fill="#1a1a1a"/><rect x="407.8" y="484" width="3.4" height="1.1" fill="#1a1a1a"/><rect x="32.5" y="443" width="3.6" height="1.1" fill="#1a1a1a"/><rect x="407.8" y="443" width="3.4" height="1.1" fill="#1a1a1a"/><rect x="32.5" y="403" width="3.6" height="1.1" fill="#1a1a1a"/><rect x="407.8" y="403" width="3.4" height="1.1" fill="#1a1a1a"/><rect x="32.5" y="362" width="3.6" height="1.1" fill="#1a1a1a"/><rect x="407.8" y="362" width="3.4" height="1.1" fill="#1a1a1a"/><rect x="32.5" y="322" width="3.6" height="1.1" fill="#1a1a1a"/><rect x="407.8" y="322" width="3.4" height="1.1" fill="#1a1a1a"/><rect x="117.1" y="600.5" width="1.1" height="5.5" fill="#111"/><rect x="191.0" y="600.5" width="1.1" height="5.5" fill="#111"/><rect x="264.3" y="600.5" width="1.1" height="5.5" fill="#111"/><rect x="338.1" y="600.5" width="1.1" height="5.5" fill="#111"/><rect x="43.5" y="599" width="1" height="6" fill="#d8d8d8"/><g stroke="#000" stroke-width="3" fill="none"><line x1="152" y1="336.7" x2="189" y2="336.7" stroke-dasharray="10.3 2.6"/><line x1="187.5" y1="335.2" x2="187.5" y2="589.7" stroke-dasharray="9.6 2.3"/><line x1="153.5" y1="335.2" x2="153.5" y2="589.7" stroke-dasharray="9.03 2.3" stroke-dashoffset="2.6"/><line x1="152" y1="588.2" x2="189" y2="588.2" stroke-dasharray="4.9 2 9.9 1.4 9.8 2.1 10 0"/></g><line x1="124.5" y1="545.6" x2="144.5" y2="530.4" stroke="#000" stroke-width="1.6"/><polygon points="149.9,525.9 140.5,527.9 145.9,533.7" fill="#000"/><rect x="415.5" y="305.5" width="85.6" height="64.6" fill="#fff" stroke="#000" stroke-width="1.1"/><rect x="425" y="319.5" width="25.7" height="2.8" fill="#2a2d8c"/><rect x="425" y="335.6" width="25.7" height="2.8" fill="#e3191e"/><rect x="425" y="354.9" width="25.7" height="2.8" fill="#62b035"/></svg>
<div class="tl" style="top:600.1px">0</div><div class="tl" style="top:559.6px">1</div><div class="tl" style="top:519.1px">2</div><div class="tl" style="top:478.6px">3</div><div class="tl" style="top:438.1px">4</div><div class="tl" style="top:397.6px">5</div><div class="tl" style="top:357.1px">6</div><div class="tl" style="top:316.6px">7</div>
<div class="t" style="left:0;top:609.2px;font-size:15.3px;transform-origin:0 0;transform:scaleX(0.915);">Apr 8 2008</div>
<div class="t" style="left:185.6px;top:609.2px;font-size:15.3px;transform-origin:0 0;transform:scaleX(0.915);">Oct 8 2008</div>
<div class="t" style="left:372.7px;top:609.2px;font-size:15.3px;transform-origin:0 0;transform:scaleX(0.915);">Apr 8 2009</div>
<div class="t" style="left:82.3px;top:535px;font-size:15.3px;transform-origin:0 0;transform:scaleX(0.915);">crash</div>
<div class="t" style="left:71.7px;top:552px;font-size:15.3px;transform-origin:0 0;transform:scaleX(0.95);">indicator</div>
<div class="t" style="left:0;top:0;font-size:15.8px;transform-origin:0 0;transform:translate(7.5px,254.5px) rotate(-90deg);">Latin America Stock Indices</div>
<div class="lg" style="top:312px;">TE</div>
<div class="lg" style="top:332px;">ATE+</div>
<div class="lg" style="top:351px;">ATE&ndash;</div>
</body></html>
